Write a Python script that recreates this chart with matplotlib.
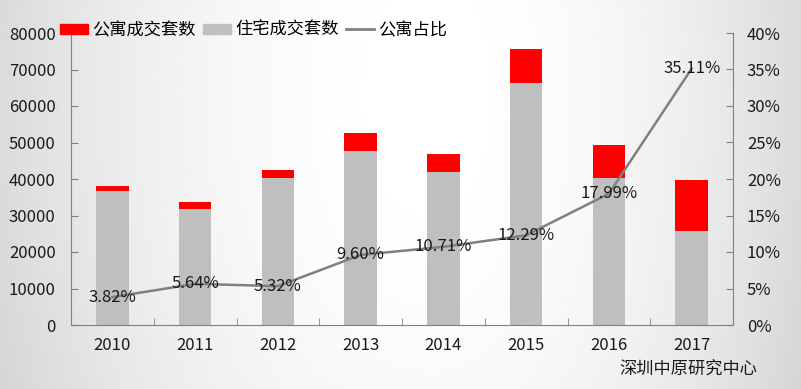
import numpy as np
import matplotlib
matplotlib.use('Agg')
import matplotlib.pyplot as plt
from matplotlib.patches import Patch
from matplotlib.lines import Line2D

plt.rcParams['font.family'] = ['Noto Sans CJK SC', 'DejaVu Sans']
plt.rcParams['font.weight'] = 'light'

# 数据
years = ['2010', '2011', '2012', '2013', '2014', '2015', '2016', '2017']
zhuzhai = [36740, 31830, 40160, 47640, 41810, 66310, 40350, 25740]   # 住宅成交套数
gongyu = [1460, 1900, 2260, 5060, 5010, 9290, 8850, 13930]            # 公寓成交套数
ratio = [3.82, 5.64, 5.32, 9.60, 10.71, 12.29, 17.99, 35.11]          # 公寓占比 %
ratio_labels = ['3.82%', '5.64%', '5.32%', '9.60%', '10.71%', '12.29%', '17.99%', '35.11%']

fig = plt.figure(figsize=(8.01, 3.89), dpi=100)

# 背景渐变
bg = fig.add_axes([0, 0, 1, 1], zorder=-10)
gx = np.linspace(0, 1, 400)
gy = np.linspace(0, 1, 200)
X, Y = np.meshgrid(gx, gy)
cx = 0.54
d = np.where(X < cx, (X - cx) / cx, (X - cx) / (1 - cx))
val = 255 - 36 * d ** 2 - 10 * (Y - 0.25) ** 2
bg.imshow(val / 255.0, cmap='gray', vmin=0, vmax=1, aspect='auto',
          extent=[0, 1, 1, 0])
bg.axis('off')

ax = fig.add_axes([71 / 801, 64 / 389, 662 / 801, 292 / 389])
ax.patch.set_alpha(0)
x = np.arange(len(years))
w = 0.39

ax.bar(x, zhuzhai, w, color='#bfbfbf', zorder=2)
ax.bar(x, gongyu, w, bottom=zhuzhai, color='#ff0000', zorder=2)

ax.set_xlim(-0.5, 7.5)
ax.set_ylim(0, 80000)
ax.set_yticks(np.arange(0, 80001, 10000))
ax.set_xticks(x)
ax.set_xticklabels(years)
ax.set_xticks(np.arange(-0.5, 7.6, 1), minor=True)
ax.tick_params(axis='x', which='major', length=0, pad=9, labelsize=12, colors='#1a1a1a')
ax.tick_params(axis='x', which='minor', direction='in', length=5, color='#808080')
ax.tick_params(axis='y', direction='in', length=5, color='#808080', pad=11,
               labelsize=12, labelcolor='#1a1a1a')
for s in ['top', 'right']:
    ax.spines[s].set_visible(False)
for s in ['left', 'bottom']:
    ax.spines[s].set_color('#808080')

ax2 = ax.twinx()
ax2.plot(x, ratio, color='#808080', lw=1.8, zorder=3)
ax2.set_ylim(0, 40)
ax2.set_yticks(np.arange(0, 41, 5))
ax2.set_yticklabels([f'{v}%' for v in range(0, 41, 5)])
ax2.tick_params(axis='y', direction='in', length=5, color='#808080', pad=10,
                labelsize=12, labelcolor='#1a1a1a')
for s in ['top', 'left', 'bottom']:
    ax2.spines[s].set_visible(False)
ax2.spines['right'].set_color('#808080')

for xi, r, lab in zip(x, ratio, ratio_labels):
    ax2.text(xi, r, lab, ha='center', va='center', fontsize=12, color='#1a1a1a', zorder=4)

handles = [Patch(color='#ff0000'), Patch(color='#bfbfbf'),
           Line2D([], [], color='#808080', lw=2)]
fig.legend(handles, ['公寓成交套数', '住宅成交套数', '公寓占比'],
           loc='center left', bbox_to_anchor=(60 / 801, 1 - 30 / 389),
           ncol=3, frameon=False, fontsize=12.4, handlelength=1.63,
           handleheight=0.5, handletextpad=0.25, columnspacing=0.4,
           borderpad=0, borderaxespad=0)

fig.text(757 / 801, 1 - 370 / 389, '深圳中原研究中心', ha='right', va='center',
         fontsize=12.4, color='#1a1a1a')

fig.savefig('out.png', dpi=100)
